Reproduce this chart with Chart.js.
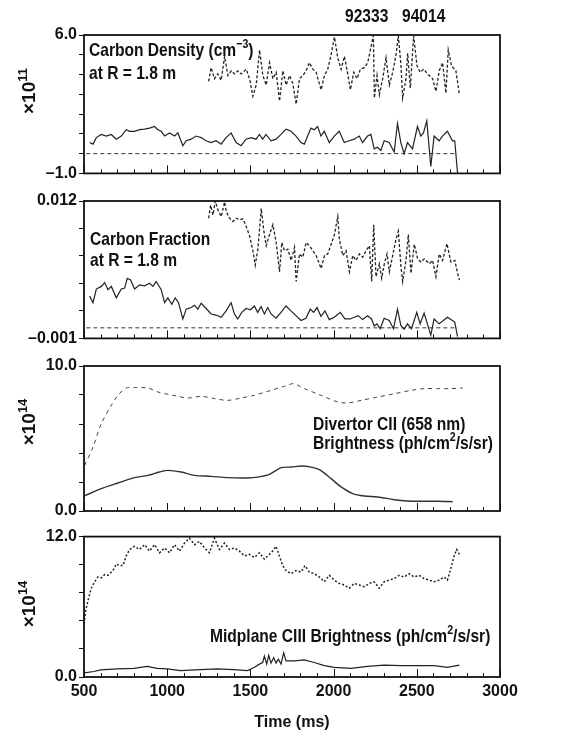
<!DOCTYPE html>
<html lang="en">
<head>
<meta charset="UTF-8">
<title>Carbon density, fraction and brightness vs time</title>
<script src="https://cdn.jsdelivr.net/npm/chart.js"></script>
<style>
    body { margin: 0; background: #fff; }
    #wrap { position: relative; width: 584px; height: 740px; font-family: "Liberation Sans", Arial, sans-serif; font-weight: bold; color: #111; }
    canvas { position: absolute; left: 0; }
    .lbl { position: absolute; font-size: 19px; line-height: 19px; white-space: nowrap; transform: scaleX(0.82); transform-origin: 0 50%; }
    .lbl sup { font-size: 13px; vertical-align: 8px; line-height: 0; }
    .exp { position: absolute; font-size: 19px; line-height: 19px; white-space: nowrap; transform: translate(-50%, -50%) rotate(-90deg); }
    .exp sup { font-size: 13px; vertical-align: 8px; line-height: 0; }
</style>
</head>
<body>
<div id="wrap">
    <canvas id="c1" width="584" height="185" style="top:0"></canvas>
    <canvas id="c2" width="584" height="165" style="top:185px"></canvas>
    <canvas id="c3" width="584" height="175" style="top:350px"></canvas>
    <canvas id="c4" width="584" height="215" style="top:525px"></canvas>

    <div class="lbl" style="left:345px; top:6px">92333</div>
    <div class="lbl" style="left:402px; top:6px">94014</div>
    <div class="exp" style="left:28px; top:91px">×10<sup>11</sup></div>
    <div class="lbl" style="left:89px; top:40px">Carbon Density (cm<sup>−3</sup>)</div>
    <div class="lbl" style="left:89px; top:63px">at R = 1.8 m</div>

    <div class="lbl" style="left:90px; top:229px">Carbon Fraction</div>
    <div class="lbl" style="left:90px; top:250px">at R = 1.8 m</div>

    <div class="exp" style="left:28px; top:422px">×10<sup>14</sup></div>
    <div class="lbl" style="left:313px; top:414px">Divertor CII (658 nm)</div>
    <div class="lbl" style="left:313px; top:433px">Brightness (ph/cm<sup>2</sup>/s/sr)</div>

    <div class="exp" style="left:28px; top:604px">×10<sup>14</sup></div>
    <div class="lbl" style="left:210px; top:626px">Midplane CIII Brightness (ph/cm<sup>2</sup>/s/sr)</div>
</div>

<script>
    // time axis (ms)
    const xTicks = [500,600,700,800,900,1000,1100,1200,1300,1400,1500,1600,1700,1800,1900,2000,
                    2100,2200,2300,2400,2500,2600,2700,2800,2900,3000];

    // panel 1: carbon density (x1e11 cm^-3), [time, value]
    const densSolid = [[534,0.56],[554,0.48],[574,0.81],[604,0.97],[634,0.89],[664,0.97],[694,0.73],[724,0.89],
        [754,1.21],[774,1.13],[804,1.13],[834,1.21],[864,1.24],[894,1.29],[924,1.37],[944,1.21],[964,1.13],
        [984,0.89],[1014,1.05],[1044,0.89],[1064,1.05],[1094,0.40],[1114,0.65],[1144,0.73],[1174,0.89],
        [1204,0.81],[1234,0.65],[1264,0.56],[1294,0.65],[1324,0.48],[1354,0.81],[1384,1.05],[1414,0.56],
        [1444,0.40],[1474,0.73],[1504,0.81],[1534,0.73],[1554,0.97],[1574,0.73],[1594,0.97],[1624,0.65],
        [1654,0.73],[1684,0.97],[1714,1.24],[1744,1.13],[1774,0.89],[1804,0.56],[1824,0.48],[1844,0.89],
        [1864,1.29],[1884,1.21],[1904,1.37],[1924,0.89],[1944,1.13],[1974,0.56],[2004,0.89],[2034,1.13],
        [2064,0.56],[2094,0.65],[2124,0.73],[2154,0.89],[2174,0.56],[2204,0.89],[2224,0.97],[2244,0.24],
        [2264,0.32],[2284,0.16],[2304,0.65],[2334,0.56],[2364,0.08],[2384,1.53],[2404,0.56],[2424,0.00],
        [2444,0.56],[2474,0.24],[2504,1.37],[2524,0.89],[2540,1.05],[2560,1.66],[2584,-0.65],[2604,0.89],
        [2634,0.65],[2654,0.89],[2684,1.13],[2714,0.65],[2728,0.65],[2745,-1.0]];
    const densDashed = [[1249,3.66],[1264,4.35],[1284,3.79],[1304,4.03],[1324,3.71],[1345,4.92],[1365,3.95],
        [1385,4.19],[1405,4.03],[1425,4.19],[1445,4.03],[1475,4.27],[1495,3.79],[1515,2.90],[1535,3.47],
        [1555,5.24],[1575,3.95],[1595,3.47],[1615,4.60],[1635,3.79],[1655,4.11],[1675,2.66],[1695,4.19],
        [1715,3.47],[1735,3.95],[1755,3.55],[1775,2.50],[1795,3.79],[1815,3.95],[1835,4.19],[1855,4.60],
        [1875,4.27],[1895,4.11],[1925,3.23],[1945,3.95],[1965,4.27],[1985,5.00],[2005,5.90],[2025,4.84],
        [2045,4.27],[2065,4.92],[2085,4.03],[2101,3.23],[2121,4.11],[2141,3.79],[2161,4.27],[2185,4.35],
        [2205,4.60],[2225,5.40],[2239,5.97],[2245,2.82],[2261,3.95],[2275,2.98],[2295,3.79],[2315,4.84],
        [2335,3.47],[2355,4.11],[2375,5.00],[2389,5.97],[2405,4.44],[2415,2.82],[2435,3.79],[2445,5.08],
        [2461,3.31],[2481,5.97],[2501,4.44],[2521,4.11],[2541,4.27],[2565,4.03],[2595,3.79],[2615,3.15],
        [2635,4.19],[2655,4.60],[2675,3.06],[2689,5.24],[2709,4.44],[2735,4.19],[2756,2.98]];
    const densZero = [[514,0],[2745,0]];

    // panel 2: carbon fraction
    const fracSolid = [[534,0.0030],[554,0.00238],[574,0.00367],[604,0.00392],[624,0.00429],[644,0.00361],
        [664,0.00392],[694,0.00284],[724,0.00367],[744,0.00376],[760,0.00469],[780,0.00453],[804,0.00367],
        [834,0.00407],[864,0.00398],[894,0.00422],[914,0.00392],[934,0.00438],[964,0.00361],[984,0.00238],
        [1004,0.00284],[1028,0.00223],[1048,0.00284],[1068,0.00238],[1094,0.00084],[1114,0.00177],
        [1144,0.00192],[1164,0.00214],[1184,0.00177],[1204,0.00232],[1234,0.00183],[1264,0.00131],
        [1294,0.00121],[1324,0.0010],[1354,0.00161],[1384,0.00238],[1404,0.00131],[1424,0.00084],
        [1448,0.00146],[1474,0.00183],[1500,0.00171],[1524,0.00207],[1544,0.00146],[1564,0.00201],
        [1584,0.00131],[1604,0.00192],[1624,0.00131],[1654,0.00091],[1684,0.00146],[1714,0.00207],
        [1744,0.00161],[1774,0.00115],[1804,0.00069],[1834,0.00091],[1860,0.00177],[1880,0.00146],
        [1900,0.00192],[1924,0.00109],[1948,0.00161],[1974,0.00078],[2004,0.0010],[2040,0.00146],
        [2068,0.00084],[2100,0.00084],[2124,0.0010],[2148,0.00115],[2174,0.00078],[2204,0.00115],
        [2228,0.00084],[2244,0.00017],[2260,0.00038],[2280,-0.00008],[2304,0.00091],[2334,0.00069],
        [2360,-0.00008],[2384,0.00177],[2404,0.00023],[2424,-0.00014],[2444,0.00038],[2468,-0.00008],
        [2500,0.00146],[2520,0.00038],[2544,0.0014],[2584,-0.00069],[2604,0.00084],[2634,0.00038],
        [2660,0.00069],[2684,0.0010],[2714,0.00069],[2728,0.00054],[2745,-0.00084]];
    const fracDashed = [[1249,0.01037],[1261,0.0116],[1275,0.01068],[1289,0.0120],[1305,0.01114],
        [1325,0.01053],[1345,0.01191],[1355,0.01099],[1375,0.01037],[1395,0.01006],[1415,0.01037],
        [1435,0.01022],[1455,0.01031],[1475,0.0096],[1495,0.00868],[1515,0.0073],[1529,0.00592],
        [1545,0.00745],[1565,0.01129],[1581,0.00914],[1595,0.00776],[1615,0.00883],[1635,0.00976],
        [1655,0.00807],[1675,0.0053],[1689,0.00807],[1705,0.0073],[1725,0.00745],[1745,0.00638],
        [1765,0.00761],[1775,0.00438],[1795,0.00699],[1815,0.00668],[1835,0.00807],[1855,0.00776],
        [1875,0.0073],[1895,0.00684],[1925,0.00561],[1945,0.00684],[1965,0.00699],[1989,0.00807],
        [2005,0.00883],[2025,0.01053],[2035,0.00837],[2055,0.00684],[2075,0.0073],[2095,0.0053],
        [2115,0.00684],[2135,0.00638],[2155,0.00699],[2175,0.00668],[2195,0.0073],[2215,0.00776],
        [2229,0.00438],[2241,0.00976],[2255,0.00484],[2275,0.00607],[2289,0.00469],[2305,0.00607],
        [2321,0.00699],[2335,0.0053],[2355,0.00684],[2375,0.00837],[2389,0.00914],[2405,0.00576],
        [2415,0.00438],[2435,0.00638],[2449,0.00883],[2465,0.00515],[2485,0.00791],[2505,0.00653],
        [2525,0.00622],[2545,0.00653],[2575,0.00607],[2595,0.00638],[2615,0.00484],[2635,0.00699],
        [2655,0.00638],[2681,0.00797],[2705,0.00622],[2729,0.00638],[2745,0.00515],[2756,0.00453]];
    const fracZero = [[514,0],[2745,0]];

    // panel 3: divertor CII brightness (x1e14)
    const divDashed = [[504,3.15],[554,4.41],[604,6.02],[664,7.29],[704,7.98],[754,8.48],[804,8.51],[884,8.48],
        [944,8.21],[1004,8.05],[1064,7.91],[1124,7.79],[1204,7.91],[1284,7.75],[1364,7.63],[1444,7.79],
        [1524,7.98],[1624,8.32],[1704,8.60],[1760,8.78],[1824,8.44],[1924,7.98],[2025,7.52],[2085,7.45],
        [2165,7.63],[2265,7.86],[2366,8.09],[2466,8.32],[2546,8.44],[2626,8.44],[2696,8.44],[2776,8.48]];
    const divSolid = [[504,1.05],[604,1.54],[704,1.93],[804,2.30],[884,2.46],[954,2.69],[1004,2.80],[1084,2.69],
        [1164,2.46],[1264,2.39],[1364,2.30],[1484,2.28],[1544,2.34],[1614,2.53],[1685,2.99],[1745,3.03],
        [1805,3.10],[1865,3.03],[1915,2.85],[1985,2.23],[2045,1.66],[2115,1.20],[2185,1.03],[2265,0.97],
        [2365,0.78],[2445,0.69],[2526,0.67],[2626,0.67],[2716,0.64]];

    // panel 4: midplane CIII brightness (x1e14)
    const midDashed = [[500,4.55],[510,5.66],[528,6.76],[544,7.59],[564,8.14],[584,8.55],[604,8.47],[624,8.75],
        [644,8.69],[674,9.10],[694,9.66],[714,9.52],[734,9.52],[754,10.35],[774,10.90],[804,11.17],[834,10.90],
        [864,11.31],[894,10.76],[924,11.31],[954,10.62],[984,11.03],[1014,10.62],[1044,11.31],[1074,10.76],
        [1104,11.45],[1134,11.86],[1164,11.31],[1194,11.59],[1224,11.03],[1254,10.62],[1284,11.86],[1314,10.90],
        [1344,11.45],[1374,10.90],[1404,11.03],[1434,10.76],[1464,10.35],[1494,10.48],[1524,10.21],[1554,10.62],
        [1584,10.07],[1614,10.48],[1634,10.76],[1654,11.17],[1674,10.35],[1694,9.52],[1714,9.10],[1744,8.83],
        [1774,9.10],[1804,8.97],[1828,9.52],[1854,8.97],[1884,8.83],[1914,8.55],[1944,8.14],[1974,8.69],
        [2004,8.28],[2034,8.00],[2064,7.86],[2094,7.59],[2124,8.00],[2154,7.86],[2184,7.72],[2214,8.00],
        [2244,8.14],[2274,7.59],[2304,8.14],[2334,8.28],[2364,8.41],[2394,8.69],[2424,8.55],[2454,8.83],
        [2484,8.55],[2514,8.69],[2544,8.41],[2574,8.28],[2604,8.14],[2634,8.28],[2664,8.55],[2684,8.28],
        [2704,9.24],[2724,10.35],[2740,10.90],[2756,10.48]];
    const midSolid = [[500,0.36],[560,0.47],[600,0.61],[700,0.69],[800,0.74],[880,0.91],[940,0.74],[1000,0.69],
        [1080,0.55],[1200,0.63],[1300,0.69],[1400,0.63],[1484,0.55],[1524,0.83],[1554,1.10],[1574,1.24],
        [1584,1.79],[1598,1.10],[1610,1.85],[1624,1.19],[1640,1.66],[1654,1.19],[1668,1.52],[1684,1.10],
        [1700,2.07],[1714,1.38],[1764,1.38],[1824,1.46],[1884,1.24],[1944,0.97],[2004,0.83],[2104,0.74],
        [2204,0.91],[2304,1.02],[2404,0.97],[2504,0.97],[2604,0.97],[2684,0.83],[2756,1.02]];

    // y ticks and end labels per panel
    const yTicks1 = [-1, 0, 1, 2, 3, 4, 5, 6];
    const yLabels1 = ['–1.0', '6.0'];
    const yTicks2 = [-0.001, 0.0016, 0.0042, 0.0068, 0.0094, 0.012];
    const yLabels2 = ['–0.001', '0.012'];
    const yTicks3 = [0, 2, 4, 6, 8, 10];
    const yLabels3 = ['0.0', '10.0'];
    const yTicks4 = [0, 2.4, 4.8, 7.2, 9.6, 12];
    const yLabels4 = ['0.0', '12.0'];

    const INK = '#111';
    const tickFont = { family: '"Liberation Sans", Arial, sans-serif', size: 16, weight: 'bold' };

    function pts(pairs) {
        return pairs.map(p => ({ x: p[0], y: p[1] }));
    }

    function line(pairs, opts) {
        return Object.assign({
            data: pts(pairs),
            borderColor: '#222',
            borderWidth: 1.2,
            pointRadius: 0,
            tension: 0,
            fill: false
        }, opts || {});
    }

    // box around the plot and inward ticks on the time axis
    const frameTicks = {
        id: 'frameTicks',
        afterDraw(chart) {
            const { ctx, chartArea: a, scales: { x } } = chart;
            ctx.save();
            ctx.strokeStyle = INK;
            ctx.lineWidth = 1;
            xTicks.forEach(t => {
                const px = Math.round(x.getPixelForValue(t)) + 0.5;
                const len = t % 500 === 0 ? 8 : 4;
                ctx.beginPath();
                ctx.moveTo(px, a.bottom);
                ctx.lineTo(px, a.bottom - len);
                ctx.stroke();
            });
            ctx.lineWidth = 1.8;
            ctx.strokeRect(a.left, a.top, a.right - a.left, a.bottom - a.top);
            ctx.restore();
        }
    };

    function makeChart(id, datasets, yTicks, yLabels, padTop, padBottom, withTime) {
        return new Chart(document.getElementById(id), {
            type: 'line',
            data: { datasets: datasets },
            options: {
                responsive: false,
                animation: false,
                events: [],
                layout: { padding: { top: padTop, bottom: padBottom, left: 0, right: 84 } },
                plugins: { legend: { display: false }, tooltip: { enabled: false } },
                scales: {
                    x: {
                        type: 'linear',
                        min: 500,
                        max: 3000,
                        display: withTime,
                        afterBuildTicks: s => { s.ticks = xTicks.map(v => ({ value: v })); },
                        afterFit: s => { if (withTime) s.height = 59; },
                        grid: { drawOnChartArea: false, drawTicks: false },
                        border: { display: false },
                        ticks: {
                            autoSkip: false,
                            maxRotation: 0,
                            padding: 5,
                            color: INK,
                            font: tickFont,
                            callback: v => (v % 500 === 0 ? String(v) : '')
                        },
                        title: {
                            display: withTime,
                            text: 'Time (ms)',
                            color: INK,
                            font: tickFont,
                            padding: { top: 0, bottom: 4 }
                        }
                    },
                    y: {
                        min: yTicks[0],
                        max: yTicks[yTicks.length - 1],
                        afterBuildTicks: s => { s.ticks = yTicks.map(v => ({ value: v })); },
                        afterFit: s => { s.width = 84; },
                        grid: { drawOnChartArea: false, drawTicks: true, tickLength: 5, color: INK },
                        border: { display: false },
                        ticks: {
                            autoSkip: false,
                            padding: 2,
                            color: INK,
                            font: tickFont,
                            callback: (v, i) => (i === 0 ? yLabels[0] : (i === yTicks.length - 1 ? yLabels[1] : ''))
                        }
                    }
                }
            },
            plugins: [frameTicks]
        });
    }

    makeChart('c1', [
        line(densDashed, { borderDash: [3, 2], borderWidth: 1.3 }),
        line(densSolid),
        line(densZero, { borderDash: [4, 3], borderWidth: 1, borderColor: '#333' })
    ], yTicks1, yLabels1, 35, 7, false);

    makeChart('c2', [
        line(fracDashed, { borderDash: [3, 2], borderWidth: 1.3 }),
        line(fracSolid),
        line(fracZero, { borderDash: [4, 3], borderWidth: 1, borderColor: '#333' })
    ], yTicks2, yLabels2, 16, 8, false);

    makeChart('c3', [
        line(divDashed, { borderDash: [4, 4], borderWidth: 1, borderColor: '#444', tension: 0.3 }),
        line(divSolid, { borderColor: '#333', borderWidth: 1.4, tension: 0.3 })
    ], yTicks3, yLabels3, 16, 14, false);

    makeChart('c4', [
        line(midDashed, { borderDash: [2, 2], borderWidth: 1.5 }),
        line(midSolid)
    ], yTicks4, yLabels4, 7, 4, true);
</script>
</body>
</html>
